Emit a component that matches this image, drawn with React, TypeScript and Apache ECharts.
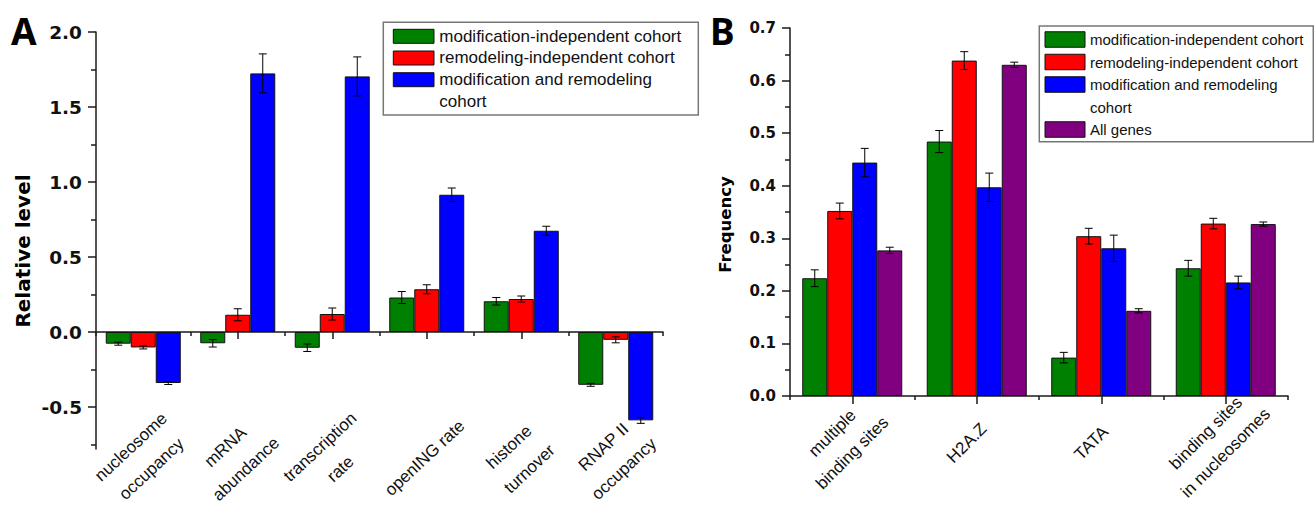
import React, { useEffect, useRef } from 'react';
import * as echarts from 'echarts';

// ---------- Panel A data ----------
const categoriesA = [
  'nucleosome\noccupancy',
  'mRNA\nabundance',
  'transcription\nrate',
  'openING rate',
  'histone\nturnover',
  'RNAP II\noccupancy',
];
const seriesNamesA = [
  'modification-independent cohort',
  'remodeling-independent cohort',
  'modification and remodeling cohort',
];
const legendLabelsA = [
  'modification-independent cohort',
  'remodeling-independent cohort',
  'modification and remodeling\ncohort',
];
const modIndepA = [-0.078, -0.075, -0.105, 0.23, 0.205, -0.352];
const modIndepErrA = [0.01, 0.025, 0.025, 0.04, 0.025, 0.01];
const remIndepA = [-0.103, 0.115, 0.12, 0.285, 0.22, -0.052];
const remIndepErrA = [0.01, 0.04, 0.04, 0.03, 0.02, 0.02];
const modRemA = [-0.34, 1.724, 1.704, 0.915, 0.675, -0.589];
const modRemErrA = [0.01, 0.13, 0.13, 0.045, 0.03, 0.02];
const yTicksA = [-0.5, 0, 0.5, 1.0, 1.5, 2.0];
const yMinorTicksA = [-0.75, -0.25, 0.25, 0.75, 1.25, 1.75];

// ---------- Panel B data ----------
const categoriesB = ['multiple\nbinding sites', 'H2A.Z', 'TATA', 'binding sites\nin nucleosomes'];
const seriesNamesB = [
  'modification-independent cohort',
  'remodeling-independent cohort',
  'modification and remodeling cohort',
  'All genes',
];
const legendLabelsB = [
  'modification-independent cohort',
  'remodeling-independent cohort',
  'modification and remodeling\ncohort',
  'All genes',
];
const modIndepB = [0.224, 0.484, 0.073, 0.243];
const modIndepErrB = [0.016, 0.021, 0.01, 0.015];
const remIndepB = [0.352, 0.638, 0.304, 0.328];
const remIndepErrB = [0.015, 0.017, 0.015, 0.01];
const modRemB = [0.444, 0.397, 0.281, 0.216];
const modRemErrB = [0.027, 0.027, 0.025, 0.012];
const allGenesB = [0.277, 0.63, 0.162, 0.327];
const allGenesErrB = [0.006, 0.005, 0.004, 0.004];
const yTicksB = [0, 0.1, 0.2, 0.3, 0.4, 0.5, 0.6, 0.7];
const yMinorTicksB = [0.05, 0.15, 0.25, 0.35, 0.45, 0.55, 0.65];

const COLORS = ['#008000', '#ff0000', '#0000ff', '#800080'];
const BAR_W = 25;
const CAP = 4;
const AXIS_COLOR = '#1a1a1a';
const SANS = '"Liberation Sans", Arial, sans-serif';
const BOLD = '"DejaVu Sans", sans-serif';
const Y_MIN_A = -0.78;

function barSeries(name: string, data: number[], color: string, xIdx: number, yIdx: number) {
  return {
    type: 'bar',
    name,
    xAxisIndex: xIdx,
    yAxisIndex: yIdx,
    data,
    barWidth: BAR_W,
    barGap: '0%',
    itemStyle: { color, borderColor: '#111', borderWidth: 1 },
    z: 2,
  };
}

function errSeries(name: string, values: number[], errs: number[], k: number, n: number, xIdx: number, yIdx: number) {
  return {
    type: 'custom',
    name: name + ' (error)',
    xAxisIndex: xIdx,
    yAxisIndex: yIdx,
    z: 5,
    data: values.map((v, i) => [i, v, errs[i]]),
    encode: { x: 0, y: 1 },
    renderItem: (_params: any, api: any) => {
      const i = api.value(0);
      const v = api.value(1);
      const e = api.value(2);
      const off = (k - (n - 1) / 2) * BAR_W;
      const top = api.coord([i, v + e]);
      const bot = api.coord([i, v - e]);
      const x = top[0] + off;
      const st = { stroke: '#000', lineWidth: 1 };
      return {
        type: 'group',
        children: [
          { type: 'line', shape: { x1: x, y1: top[1], x2: x, y2: bot[1] }, style: st },
          { type: 'line', shape: { x1: x - CAP, y1: top[1], x2: x + CAP, y2: top[1] }, style: st },
          { type: 'line', shape: { x1: x - CAP, y1: bot[1], x2: x + CAP, y2: bot[1] }, style: st },
        ],
      };
    },
  };
}

function legendGraphic(
  id: string,
  labels: string[],
  box: { x: number; y: number; w: number; h: number },
  sw: { x: number; w: number; h: number },
  textX: number,
  firstCenter: number,
  lh: number,
  fontSize: number
) {
  const els: any[] = [
    {
      id: id + '-box',
      type: 'rect',
      shape: { x: box.x, y: box.y, width: box.w, height: box.h },
      style: { fill: '#fff', stroke: '#777', lineWidth: 1.5 },
      z: 10,
    },
  ];
  let line = 0;
  labels.forEach((lab, i) => {
    const c = firstCenter + line * lh;
    els.push({
      id: id + '-sw' + i,
      type: 'rect',
      shape: { x: sw.x, y: c - sw.h / 2, width: sw.w, height: sw.h },
      style: { fill: COLORS[i], stroke: '#111', lineWidth: 1 },
      z: 11,
    });
    els.push({
      id: id + '-tx' + i,
      type: 'text',
      x: textX,
      y: c - lh / 2,
      z: 11,
      style: {
        text: lab,
        fill: '#111',
        fontFamily: SANS,
        fontSize,
        lineHeight: lh,
        align: 'left',
        verticalAlign: 'top',
      },
    });
    line += lab.split('\n').length;
  });
  return els;
}

export default function App() {
  const ref = useRef<HTMLDivElement>(null);
  useEffect(() => {
    const chart = echarts.init(ref.current!, null, { renderer: 'svg' });
    const axisLine = { show: true, onZero: false, lineStyle: { color: AXIS_COLOR, width: 1.5 } };
    const fmt = (v: number) => v.toFixed(1);

    const baseGraphic: any[] = [
      {
        id: 'letterA',
        type: 'text',
        x: 11,
        y: 30,
        style: { text: 'A', fill: '#000', fontFamily: '"Noto Sans", sans-serif', fontWeight: 'bold', fontSize: 37, align: 'left', verticalAlign: 'middle' },
      },
      {
        id: 'letterB',
        type: 'text',
        x: 710,
        y: 30,
        style: { text: 'B', fill: '#000', fontFamily: '"Noto Sans", sans-serif', fontWeight: 'bold', fontSize: 37, align: 'left', verticalAlign: 'middle' },
      },
      {
        id: 'ynameA',
        type: 'text',
        x: 22.5,
        y: 251,
        rotation: Math.PI / 2,
        style: { text: 'Relative level', fill: '#000', fontFamily: BOLD, fontWeight: 'bold', fontSize: 20, align: 'center', verticalAlign: 'middle' },
      },
      {
        id: 'ynameB',
        type: 'text',
        x: 725,
        y: 224.5,
        rotation: Math.PI / 2,
        style: { text: 'Frequency', fill: '#000', fontFamily: BOLD, fontWeight: 'bold', fontSize: 16.5, align: 'center', verticalAlign: 'middle' },
      },
      ...legendGraphic('legA', legendLabelsA, { x: 383.3, y: 22.3, w: 315, h: 92.7 }, { x: 393.3, w: 40.7, h: 14 }, 439.3, 36.3, 21.7, 17),
      ...legendGraphic('legB', legendLabelsB, { x: 1039.3, y: 26, w: 274, h: 115.7 }, { x: 1045, w: 40, h: 15.5 }, 1090, 39.5, 22.5, 15),
    ];

    const option: any = {
      animation: false,
      backgroundColor: '#fff',
      grid: [
        { left: 96, top: 32, width: 567, height: 417, containLabel: false, outerBoundsMode: 'none' },
        { left: 790, top: 28, width: 498, height: 368, containLabel: false, outerBoundsMode: 'none' },
      ],
      xAxis: [
        {
          type: 'category',
          gridIndex: 0,
          data: categoriesA,
          position: 'bottom',
          axisLine: { show: true, onZero: true, onZeroAxisIndex: 0, lineStyle: { color: AXIS_COLOR, width: 1.5 } },
          axisTick: { show: true, alignWithLabel: true, interval: 0, length: 7, lineStyle: { color: AXIS_COLOR, width: 1.5 } },
          axisLabel: { show: false },
        },
        {
          type: 'category',
          gridIndex: 0,
          data: categoriesA,
          position: 'bottom',
          axisLine: { show: false, onZero: true, onZeroAxisIndex: 0 },
          axisTick: { show: true, interval: 0, length: 4, lineStyle: { color: AXIS_COLOR, width: 1.5 } },
          axisLabel: { show: false },
        },
        {
          type: 'category',
          gridIndex: 1,
          data: categoriesB,
          position: 'bottom',
          axisLine,
          axisTick: { show: true, alignWithLabel: true, interval: 0, length: 8, lineStyle: { color: AXIS_COLOR, width: 1.5 } },
          axisLabel: { show: false },
        },
        {
          type: 'category',
          gridIndex: 1,
          data: categoriesB,
          position: 'bottom',
          axisLine: { show: false, onZero: false },
          axisTick: { show: true, interval: 0, length: 4, lineStyle: { color: AXIS_COLOR, width: 1.5 } },
          axisLabel: { show: false },
        },
      ],
      yAxis: [
        {
          type: 'value',
          gridIndex: 0,
          position: 'left',
          min: Y_MIN_A,
          max: 2.0,
          axisLine,
          splitLine: { show: false },
          axisTick: { show: true, customValues: yTicksA, length: 8, lineStyle: { color: AXIS_COLOR, width: 1.5 } },
          axisLabel: {
            show: true,
            customValues: yTicksA,
            formatter: fmt,
            margin: 14,
            color: '#111',
            fontFamily: BOLD,
            fontWeight: 'bold',
            fontSize: 18.5,
          },
        },
        {
          type: 'value',
          gridIndex: 0,
          position: 'left',
          min: Y_MIN_A,
          max: 2.0,
          axisLine: { show: false },
          splitLine: { show: false },
          axisTick: { show: true, customValues: yMinorTicksA, length: 5, lineStyle: { color: AXIS_COLOR, width: 1.5 } },
          axisLabel: { show: false },
        },
        {
          type: 'value',
          gridIndex: 1,
          position: 'left',
          min: 0,
          max: 0.7,
          axisLine,
          splitLine: { show: false },
          axisTick: { show: true, customValues: yTicksB, length: 8, lineStyle: { color: AXIS_COLOR, width: 1.5 } },
          axisLabel: {
            show: true,
            customValues: yTicksB,
            formatter: fmt,
            margin: 14,
            color: '#111',
            fontFamily: BOLD,
            fontWeight: 'bold',
            fontSize: 15,
          },
        },
        {
          type: 'value',
          gridIndex: 1,
          position: 'left',
          min: 0,
          max: 0.7,
          axisLine: { show: false },
          splitLine: { show: false },
          axisTick: { show: true, customValues: yMinorTicksB, length: 5, lineStyle: { color: AXIS_COLOR, width: 1.5 } },
          axisLabel: { show: false },
        },
      ],
      series: [
        barSeries(seriesNamesA[0], modIndepA, COLORS[0], 0, 0),
        barSeries(seriesNamesA[1], remIndepA, COLORS[1], 0, 0),
        barSeries(seriesNamesA[2], modRemA, COLORS[2], 0, 0),
        errSeries(seriesNamesA[0], modIndepA, modIndepErrA, 0, 3, 0, 0),
        errSeries(seriesNamesA[1], remIndepA, remIndepErrA, 1, 3, 0, 0),
        errSeries(seriesNamesA[2], modRemA, modRemErrA, 2, 3, 0, 0),
        barSeries(seriesNamesB[0], modIndepB, COLORS[0], 2, 2),
        barSeries(seriesNamesB[1], remIndepB, COLORS[1], 2, 2),
        barSeries(seriesNamesB[2], modRemB, COLORS[2], 2, 2),
        barSeries(seriesNamesB[3], allGenesB, COLORS[3], 2, 2),
        errSeries(seriesNamesB[0], modIndepB, modIndepErrB, 0, 4, 2, 2),
        errSeries(seriesNamesB[1], remIndepB, remIndepErrB, 1, 4, 2, 2),
        errSeries(seriesNamesB[2], modRemB, modRemErrB, 2, 4, 2, 2),
        errSeries(seriesNamesB[3], allGenesB, allGenesErrB, 3, 4, 2, 2),
      ],
      graphic: baseGraphic,
    };
    chart.setOption(option);

    // Rotated category labels, positioned from the chart's own category axes.
    const labelEls: any[] = [];
    const bottomA = chart.convertToPixel({ yAxisIndex: 0 }, Y_MIN_A) as number;
    categoriesA.forEach((cat, i) => {
      const cx = chart.convertToPixel({ xAxisIndex: 0 }, i) as number;
      labelEls.push({
        id: 'catA' + i,
        type: 'text',
        x: cx - 2,
        y: bottomA + 9,
        rotation: (43 * Math.PI) / 180,
        style: {
          text: cat,
          fill: '#111',
          fontFamily: SANS,
          fontSize: 17,
          lineHeight: 30,
          align: 'center',
          verticalAlign: 'middle',
        },
      });
    });
    const bottomB = chart.convertToPixel({ yAxisIndex: 2 }, 0) as number;
    categoriesB.forEach((cat, i) => {
      const cx = chart.convertToPixel({ xAxisIndex: 2 }, i) as number;
      labelEls.push({
        id: 'catB' + i,
        type: 'text',
        x: cx - 10,
        y: bottomB + 47,
        rotation: Math.PI / 4,
        style: {
          text: cat,
          fill: '#111',
          fontFamily: SANS,
          fontSize: 17,
          lineHeight: 28,
          align: 'center',
          verticalAlign: 'middle',
        },
      });
    });
    chart.setOption({ graphic: [...baseGraphic, ...labelEls] });

    return () => chart.dispose();
  }, []);
  return (
    <div
      ref={ref}
      style={{ position: 'fixed', left: 0, top: 0, width: 1314, height: 508, background: '#fff' }}
    />
  );
}
